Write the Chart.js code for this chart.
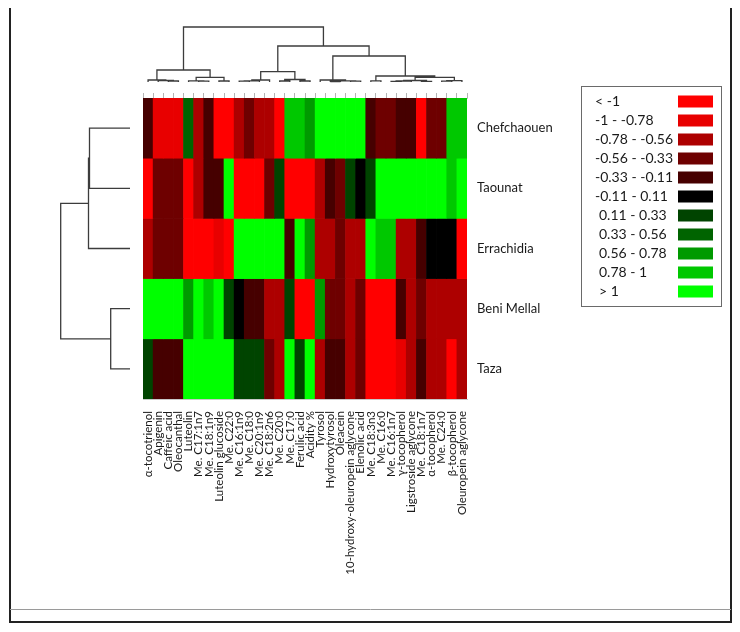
<!DOCTYPE html>
<html>
<head>
<meta charset="utf-8">
<script src="https://cdn.jsdelivr.net/npm/chart.js@4.4.1/dist/chart.umd.min.js"></script>
<style>
  html, body { margin: 0; background: #fff; }
  #wrap { width: 740px; height: 632px; }
</style>
</head>
<body>
<div id="wrap"><canvas id="heat" width="740" height="632"></canvas></div>
<script>
// column order as in the clustered heatmap
const compounds = ['α-tocotrienol', 'Apigenin', 'Caffeic acid', 'Oleocanthal', 'Luteolin',
  'Me. C17:1n7', 'Me. C18:1n9', 'Luteolin glucoside', 'Me. C22:0', 'Me. C16:1n9',
  'Me. C18:0', 'Me. C20:1n9', 'Me. C18:2n6', 'Me. C20:0', 'Me. C17:0', 'Ferulic acid',
  'Acidity %', 'Tyrosol', 'Hydroxytyrosol', 'Oleacein', '10-hydroxy-oleuropein aglycone',
  'Elenolic acid', 'Me. C18:3n3', 'Me. C16:0', 'Me. C16:1n7', 'γ-tocopherol',
  'Ligstroside aglycone', 'Me. C18:1n7', 'α-tocopherol', 'Me. C24:0', 'β-tocopherol',
  'Oleuropein aglycone'];
const regions = ['Chefchaouen', 'Taounat', 'Errachidia', 'Beni Mellal', 'Taza'];

// standardized values
const chefchaouen = [-0.22, -0.9, -0.9, -0.9, 0.45, -0.67, -0.22, -1.2, -1.2, -0.67, -0.45, -0.67, -0.67, -1.1,
  0.9, 0.9, 0.67, 1.2, 1.2, 1.2, 1.2, 1.2, -0.22, -0.45, -0.45, -0.22, -0.22, -1.2, -0.45, -0.45, 0.9, 0.9];
const taounat = [-1.2, -0.45, -0.45, -0.45, -1.2, -0.67, -0.22, -0.22, 1.2, -1.2, -1.2, -1.2, -0.45, 0.22,
  -1.2, -1.2, -1.2, -0.67, -0.22, -0.45, 0.22, 0, 0.25, 1.2, 1.2, 1.2, 1.2, 1.2, 1.2, 1.2, 0.9, 1.2];
const errachidia = [-0.67, -0.45, -0.45, -0.45, -1.2, -1.2, -1.2, -0.9, -1.2, 1.2, 1.2, 1.2, 1.2, 1.2,
  -0.22, 1.2, 0.67, -0.67, -0.67, -0.45, -0.67, -0.67, 1.2, 0.9, 0.9, -0.67, -0.67, -0.22, 0, 0, 0, -1.2];
const beniMellal = [1.2, 1.2, 1.2, 1.2, 0.67, 1.2, 0.9, 1.2, 0.25, 0, -0.22, -0.22, -0.67, -0.67,
  0.25, -1.2, -1.2, 0.67, -0.45, -0.45, -0.67, -0.45, -1.2, -1.2, -1.2, -0.22, -0.67, -0.45, -0.67, -0.67, -0.67, -0.67];
const taza = [0.22, -0.22, -0.22, -0.22, 1.2, 1.2, 1.2, 1.2, 1.2, 0.22, 0.22, 0.22, -0.45, -0.67,
  1.2, 0.3, 1.2, -0.67, -0.22, -0.22, -0.67, -0.45, -1.2, -1.2, -1.2, -0.9, -0.67, -0.22, -0.67, -0.67, -1.2, -0.67];
const rows = [chefchaouen, taounat, errachidia, beniMellal, taza];

// colour key
const binEdges = [-1, -0.78, -0.56, -0.33, -0.11, 0.11, 0.33, 0.56, 0.78, 1];
const binLabels = ['< -1', '-1 - -0.78', '-0.78 - -0.56', '-0.56 - -0.33', '-0.33 - -0.11', '-0.11 - 0.11',
  '0.11 - 0.33', '0.33 - 0.56', '0.56 - 0.78', '0.78 - 1', '> 1'];
const binColors = ['#ff0000', '#e80000', '#ad0000', '#6e0000', '#460000', '#000000',
  '#004400', '#006400', '#009a00', '#00c800', '#00ff00'];

// dendrograms: [childA, childB, height]; leaves are 0..n-1, merge k becomes n+k
const colTree = [
  [2, 3, 1], [1, 32, 1.5], [0, 33, 2],
  [5, 6, 0.8], [4, 35, 1.2], [7, 8, 1], [36, 37, 4.7], [34, 38, 12],
  [9, 10, 0.8], [40, 11, 1.2], [41, 12, 2],
  [13, 14, 1], [15, 16, 1], [43, 44, 2.5], [42, 45, 10.3],
  [18, 19, 0.5], [20, 21, 0.8], [47, 48, 1.2], [17, 49, 2],
  [22, 23, 1.2],
  [24, 25, 0.6], [52, 26, 1], [27, 28, 0.7], [53, 54, 1.5],
  [29, 30, 0.8], [56, 31, 1.3], [55, 57, 4.7], [51, 58, 6],
  [50, 59, 26], [46, 60, 36], [39, 61, 55]
];
const rowTree = [[0, 1, 40.5], [5, 2, 41.5], [3, 4, 19.3], [6, 7, 69.3]];

function colorFor(v) {
  let i = 0;
  while (i < binEdges.length && v > binEdges[i]) i++;
  return binColors[i];
}

const FONT = 'Lato, "Noto Sans", sans-serif';

function drawTree(ctx, tree, leafPos, point) {
  const n = leafPos.length;
  const pos = leafPos.slice();
  const hts = leafPos.map(() => 0);
  ctx.beginPath();
  tree.forEach(([a, b, h], k) => {
    const p1 = point(pos[a], hts[a]), p2 = point(pos[a], h);
    const p3 = point(pos[b], h), p4 = point(pos[b], hts[b]);
    ctx.moveTo(p1[0], p1[1]);
    ctx.lineTo(p2[0], p2[1]);
    ctx.lineTo(p3[0], p3[1]);
    ctx.lineTo(p4[0], p4[1]);
    pos[n + k] = (pos[a] + pos[b]) / 2;
    hts[n + k] = h;
  });
  ctx.stroke();
}

const extras = {
  id: 'extras',
  afterDraw(chart) {
    const {ctx, chartArea: area, scales} = chart;
    ctx.save();
    ctx.strokeStyle = '#3c3c3c';
    ctx.lineWidth = 1.3;

    // column dendrogram
    const colLeaves = compounds.map((c, i) => scales.x.getPixelForValue(i));
    const topBase = area.top - 16;
    drawTree(ctx, colTree, colLeaves, (p, h) => [p, topBase - h]);

    // row dendrogram
    const rowLeaves = regions.map((r, i) => scales.y.getPixelForValue(i + 0.5));
    const leftBase = area.left - 13;
    drawTree(ctx, rowTree, rowLeaves, (p, h) => [leftBase - h, p]);

    // colour key
    ctx.lineWidth = 1;
    ctx.strokeStyle = '#6a6a6a';
    ctx.strokeRect(581.5, 86.5, 140, 220);
    ctx.font = '14px ' + FONT;
    ctx.textBaseline = 'middle';
    ctx.fillStyle = '#1a1a1a';
    binLabels.forEach((lab, i) => {
      const y = 101.5 + i * 19;
      const tx = (lab[0] === '-' || lab[0] === '<') ? 595 : 599;
      ctx.fillText(lab, tx, y);
      ctx.fillStyle = binColors[i];
      ctx.fillRect(678, y - 6, 35, 12);
      ctx.fillStyle = '#1a1a1a';
    });

    // outer frame
    ctx.strokeStyle = '#222';
    ctx.lineWidth = 2;
    ctx.beginPath();
    ctx.moveTo(10, 8); ctx.lineTo(10, 622); ctx.lineTo(731, 622); ctx.lineTo(731, 8);
    ctx.stroke();
    ctx.strokeStyle = '#9a9a9a';
    ctx.lineWidth = 1;
    ctx.beginPath();
    ctx.moveTo(10, 609.5); ctx.lineTo(731, 609.5);
    ctx.stroke();
    ctx.restore();
  }
};

const datasets = regions.map((name, r) => ({
  label: name,
  data: compounds.map(() => [r, r + 1]),
  backgroundColor: rows[r].map(colorFor),
  borderWidth: 0,
  grouped: false,
  barPercentage: 1,
  categoryPercentage: 1
}));

new Chart(document.getElementById('heat'), {
  type: 'bar',
  data: {labels: compounds, datasets: datasets},
  options: {
    responsive: false,
    animation: false,
    layout: {padding: {left: 143, top: 93, right: 163, bottom: 33}},
    plugins: {legend: {display: false}, tooltip: {enabled: false}},
    scales: {
      x: {
        type: 'category', position: 'bottom', offset: true,
        grid: {display: false},
        border: {display: true, color: '#c8c8c8'},
        ticks: {autoSkip: false, minRotation: 90, maxRotation: 90, padding: 4, color: '#1a1a1a',
          font: {family: FONT, size: 11.5}},
        afterFit: s => { s.height = 200; }
      },
      xt: {
        type: 'category', position: 'top', labels: compounds, offset: true,
        grid: {display: true, drawOnChartArea: false, offset: true, tickLength: 5, color: '#b4b4b4'},
        border: {display: true, color: '#c8c8c8'},
        ticks: {display: false},
        afterFit: s => { s.height = 5; }
      },
      y: {type: 'linear', min: 0, max: 5, reverse: true, display: false},
      y2: {
        type: 'category', position: 'right', labels: regions, offset: true,
        grid: {display: false}, border: {display: false},
        ticks: {padding: 2, color: '#1a1a1a', font: {family: FONT, size: 13}},
        afterFit: s => { s.width = 110; }
      }
    }
  },
  plugins: [extras]
});
</script>
</body>
</html>
